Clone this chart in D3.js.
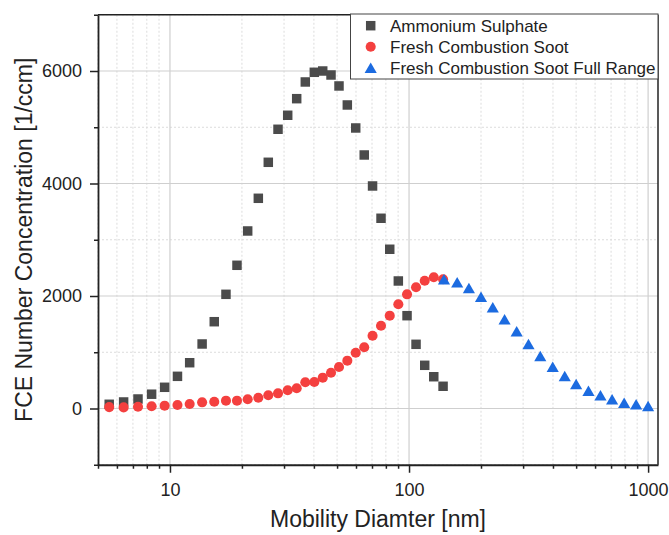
<!DOCTYPE html>
<html>
<head>
<meta charset="utf-8">
<script src="https://cdn.jsdelivr.net/npm/d3@7/dist/d3.min.js"></script>
<style>
	body { margin: 0; background: #fff; }
	svg { display: block; font-family: 'Liberation Sans', Arial, sans-serif; }
</style>
</head>
<body>
<svg width="669" height="535"></svg>
<script>
// SMPS bin diameters (nm), shared by the sulphate and fresh soot scans
const diameters = [
	5.57, 6.40, 7.35, 8.38, 9.50, 10.75, 12.09, 13.63, 15.32, 17.15,
	19.07, 21.14, 23.42, 25.78, 28.31, 31.08, 33.89, 36.82, 40.16, 43.55,
	47.17, 50.94, 55.19, 59.84, 64.95, 70.37, 76.35, 83.04, 90.2, 98.1,
	106.98, 116.3, 126.9, 138.8,
];
const sulphate = [
	75, 116, 169, 254, 377, 572, 814, 1147, 1543, 2030,
	2546, 3156, 3737, 4377, 4964, 5213, 5508, 5805, 5977, 6000,
	5929, 5734, 5396, 4987, 4507, 3956, 3382, 2831, 2267, 1650,
	1141, 768, 565, 395,
];
const sootFresh = [
	25, 20, 32, 39, 50, 62, 80, 110, 121, 139,
	139, 164, 192, 235, 270, 324, 359, 466, 471, 548,
	636, 738, 850, 992, 1088, 1294, 1472, 1650, 1853, 2030,
	2155, 2272, 2333, 2297,
];
const fullRangeDiameters = [
	140, 159, 178, 200, 224, 251, 282, 316, 354, 399,
	448, 500, 563, 632, 707, 794, 891, 1000,
];
const sootFullRange = [
	2298, 2245, 2142, 1988, 1799, 1586, 1373, 1147, 933, 743,
	578, 436, 316, 235, 164, 103, 75, 44,
];
const seriesNames = ['Ammonium Sulphate', 'Fresh Combustion Soot', 'Fresh Combustion Soot Full Range'];
const xTickValues = [10, 100, 1000];
const yTickValues = [0, 2000, 4000, 6000];

const svg = d3.select('svg');
const width = 669;
const height = 535;
const margin = { top: 14.75, right: 11, bottom: 70.25, left: 98 };
const innerWidth = width - margin.left - margin.right;
const innerHeight = height - margin.top - margin.bottom;

const x = d3.scaleLog().domain([5, 1100]).range([0, innerWidth]);
const y = d3.scaleLinear().domain([-1000, 7000]).range([innerHeight, 0]);

const colors = ['#4b4b4b', '#f4403f', '#1c6be0'];

// triangle centred on its bounding box, like Origin draws it
const triangleBox = {
	draw(context, size) {
		const s = Math.sqrt(size * 4 / Math.sqrt(3));
		const h = s * Math.sqrt(3) / 2;
		context.moveTo(0, -h / 2);
		context.lineTo(s / 2, h / 2);
		context.lineTo(-s / 2, h / 2);
		context.closePath();
	},
};
const shapes = [d3.symbolSquare, d3.symbolCircle, triangleBox];
const sizes = [90, 80, 64];

const g = svg.append('g')
	.attr('transform', `translate(${margin.left},${margin.top})`);

// Grid: minor dashed first, major solid on top
const xMinor = x.ticks().filter((d) => !xTickValues.includes(d));
const yMinor = y.ticks(8).filter((d) => !yTickValues.includes(d));

g.append('g').selectAll('line')
	.data(xMinor)
	.enter().append('line')
	.attr('x1', (d) => x(d)).attr('x2', (d) => x(d))
	.attr('y1', 0).attr('y2', innerHeight)
	.attr('stroke', '#dcdcdc')
	.attr('stroke-dasharray', '2,2');

g.append('g').selectAll('line')
	.data(yMinor)
	.enter().append('line')
	.attr('x1', 0).attr('x2', innerWidth)
	.attr('y1', (d) => y(d)).attr('y2', (d) => y(d))
	.attr('stroke', '#dcdcdc')
	.attr('stroke-dasharray', '2,2');

g.append('g').selectAll('line')
	.data(xTickValues)
	.enter().append('line')
	.attr('x1', (d) => x(d)).attr('x2', (d) => x(d))
	.attr('y1', 0).attr('y2', innerHeight)
	.attr('stroke', '#cfcfcf')
	.attr('stroke-width', 1.2);

g.append('g').selectAll('line')
	.data(yTickValues)
	.enter().append('line')
	.attr('x1', 0).attr('x2', innerWidth)
	.attr('y1', (d) => y(d)).attr('y2', (d) => y(d))
	.attr('stroke', '#cfcfcf')
	.attr('stroke-width', 1.2);

// Data points
const series = [
	diameters.map((d, i) => [d, sulphate[i]]),
	diameters.map((d, i) => [d, sootFresh[i]]),
	fullRangeDiameters.map((d, i) => [d, sootFullRange[i]]),
];

series.forEach((pts, k) => {
	g.append('g').selectAll('path')
		.data(pts)
		.enter().append('path')
		.attr('transform', (d) => `translate(${x(d[0])},${y(d[1])})`)
		.attr('d', d3.symbol().type(shapes[k]).size(sizes[k]))
		.attr('fill', colors[k]);
});

// Frame top / right
g.append('line')
	.attr('x1', 0).attr('x2', innerWidth).attr('y1', 0).attr('y2', 0)
	.attr('stroke', '#222').attr('stroke-width', 1.5);
g.append('line')
	.attr('x1', innerWidth).attr('x2', innerWidth).attr('y1', 0).attr('y2', innerHeight)
	.attr('stroke', '#222').attr('stroke-width', 1.5);

// Axes
const styleAxis = (sel) => {
	sel.selectAll('path.domain').attr('stroke', '#222').attr('stroke-width', 1.8);
	sel.selectAll('.tick line').attr('stroke', '#222').attr('stroke-width', 1.5);
	sel.selectAll('.tick text').attr('fill', '#222').style('font-size', '18px')
		.style('font-family', "'Liberation Sans', Arial, sans-serif");
};

// minor ticks carry no labels, so drop their empty text nodes
const minorOnly = (s) => {
	s.select('.domain').remove();
	s.selectAll('.tick text').remove();
};

g.append('g')
	.attr('transform', `translate(0,${innerHeight})`)
	.call(d3.axisBottom(x).tickValues(xMinor).tickSize(4))
	.call(minorOnly)
	.call(styleAxis);

g.append('g')
	.attr('transform', `translate(0,${innerHeight})`)
	.call(d3.axisBottom(x).tickValues(xTickValues).tickSize(8).tickSizeOuter(0)
		.tickPadding(10).tickFormat(d3.format('d')))
	.call(styleAxis);

g.append('g')
	.call(d3.axisLeft(y).tickValues(yMinor).tickSize(4))
	.call(minorOnly)
	.call(styleAxis);

g.append('g')
	.call(d3.axisLeft(y).tickValues(yTickValues).tickSize(8).tickSizeOuter(0)
		.tickPadding(8).tickFormat(d3.format('d')))
	.call(styleAxis);

// Axis titles
g.append('text')
	.attr('x', innerWidth / 2)
	.attr('y', 512.5)
	.attr('text-anchor', 'middle')
	.attr('fill', '#222')
	.style('font-size', '23px')
	.text('Mobility Diamter [nm]');

g.append('text')
	.attr('transform', 'rotate(-90)')
	.attr('x', -innerHeight / 2)
	.attr('y', -66)
	.attr('text-anchor', 'middle')
	.attr('fill', '#222')
	.style('font-size', '23px')
	.text('FCE Number Concentration [1/ccm]');

// Legend
const legend = svg.append('g').attr('transform', 'translate(350.5,14)');
legend.append('rect')
	.attr('width', 307.5)
	.attr('height', 65)
	.attr('fill', '#fff')
	.attr('stroke', '#444')
	.attr('stroke-width', 1);

seriesNames.forEach((name, k) => {
	const row = legend.append('g').attr('transform', `translate(0,${11.7 + k * 21})`);
	row.append('path')
		.attr('transform', 'translate(20.2,0)')
		.attr('d', d3.symbol().type(shapes[k]).size(sizes[k]))
		.attr('fill', colors[k]);
	row.append('text')
		.attr('x', 39.5)
		.attr('dy', '0.35em')
		.attr('fill', '#222')
		.style('font-size', '17px')
		.text(name);
});
</script>
</body>
</html>
